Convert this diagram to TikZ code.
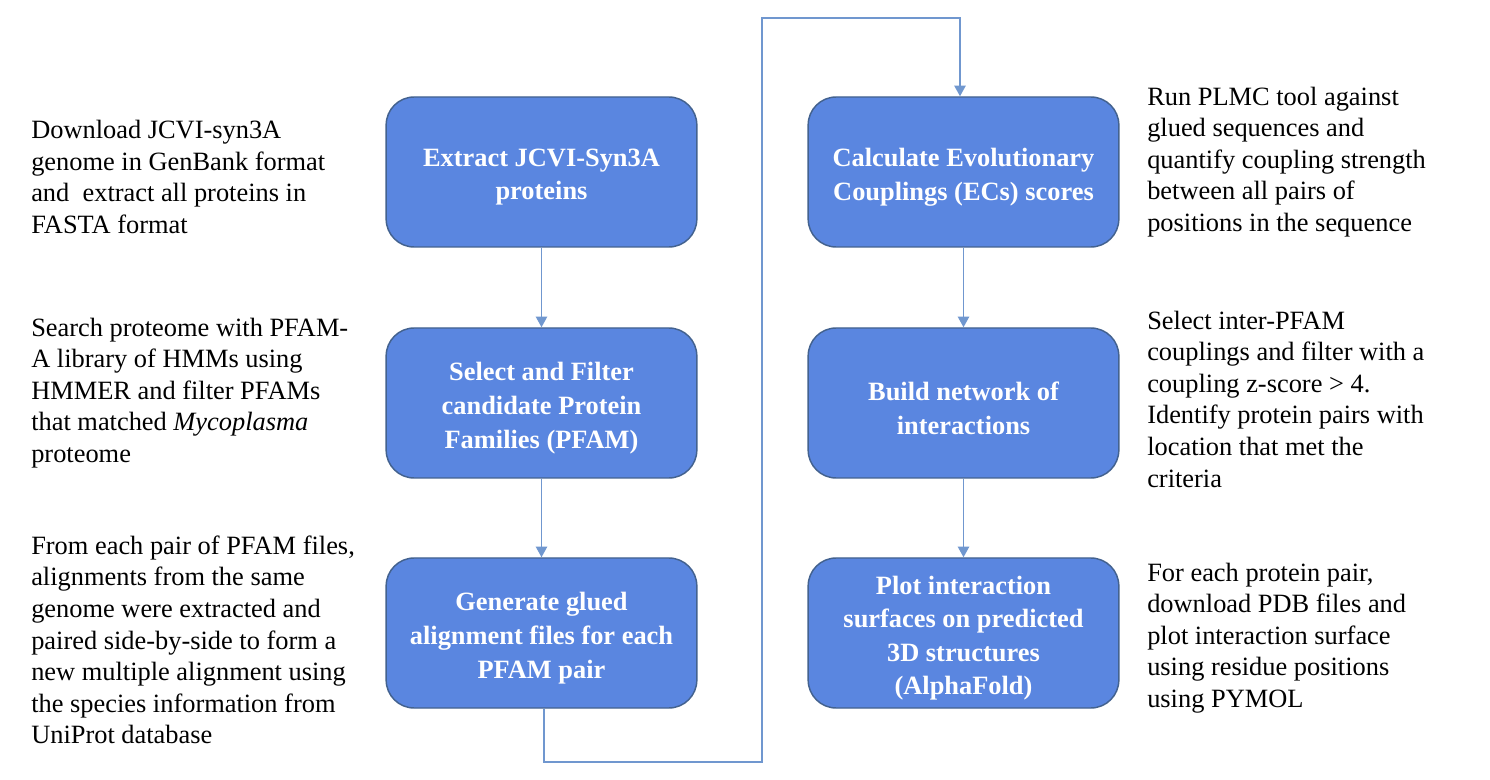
\documentclass[tikz,border=0pt]{standalone}
\usepackage{fontspec}
\setmainfont{Liberation Serif}
\usetikzlibrary{arrows.meta}
\definecolor{boxfill}{HTML}{5A86E0}
\definecolor{boxline}{HTML}{43628F}
\definecolor{conn}{HTML}{7097CF}
\begin{document}
\begin{tikzpicture}[x=0.75pt,y=-0.75pt,
  stepbox/.style={draw=boxline, line width=1.1pt, fill=boxfill, rounded corners=21pt,
    minimum width=233pt, minimum height=112.5pt, inner sep=2pt},
  boxtext/.style={align=center, text=white, inner sep=0pt, yshift=-3.8pt,
    font=\fontsize{19.8pt}{25.2pt}\selectfont\bfseries},
  sidetext/.style={align=left, inner sep=0pt, font=\fontsize{19.8pt}{23.7pt}\selectfont, anchor=west},
  conline/.style={draw=conn, line width=1.2pt},
  conarrow/.style={conline, -{Triangle[width=8.5pt,length=8pt]}}]
\useasboundingbox (0,0) rectangle (1490,780);
\fill[white] (0,0) rectangle (1490,780);

\node[stepbox, label={[boxtext]center:{Extract JCVI-Syn3A\\proteins}}] (b1) at (541.5,172) {};
\node[stepbox, label={[boxtext]center:{Select and Filter\\candidate Protein\\Families (PFAM)}}] (b2) at (541.5,403) {};
\node[stepbox, label={[boxtext]center:{Generate glued\\alignment files for each\\PFAM pair}}] (b3) at (541.5,633) {};
\node[stepbox, label={[boxtext]center:{Calculate Evolutionary\\Couplings (ECs) scores}}] (b4) at (963.5,172) {};
\node[stepbox, label={[boxtext]center:{Build network of\\interactions}}] (b5) at (963.5,403) {};
\node[stepbox, label={[boxtext]center:{Plot interaction\\surfaces on predicted\\3D structures\\(AlphaFold)}}] (b6) at (963.5,633) {};

\node[sidetext] (t1) at (31,177) {Download JCVI-syn3A\\genome in GenBank format\\and \ extract all proteins in\\FASTA format};
\node[sidetext] (t2) at (31,393) {Search proteome with PFAM-\\A library of HMMs using\\HMMER and filter PFAMs\\that matched \textit{Mycoplasma}\\proteome};
\node[sidetext] (t3) at (31,640) {From each pair of PFAM files,\\alignments from the same\\genome were extracted and\\paired side-by-side to form a\\new multiple alignment using\\the species information from\\UniProt database};
\node[sidetext] (t4) at (1147,162) {Run PLMC tool against\\glued sequences and\\quantify coupling strength\\between all pairs of\\positions in the sequence};
\node[sidetext] (t5) at (1147,399) {Select inter-PFAM\\couplings and filter with a\\coupling z-score > 4.\\Identify protein pairs with\\location that met the\\criteria};
\node[sidetext] (t6) at (1147,638) {For each protein pair,\\download PDB files and\\plot interaction surface\\using residue positions\\using PYMOL};

\coordinate (c1) at (544,762);
\coordinate (c2) at (762,762);
\coordinate (c3) at (762,18);
\coordinate (c4) at (960,18);

\draw[conarrow] (b1) -- (b2);
\draw[conarrow] (b2) -- (b3);
\draw[conarrow] (b4) -- (b5);
\draw[conarrow] (b5) -- (b6);
\draw[conarrow] (b3.south -| c1) -- (c1) -- (c2) -- (c3) -- (c4) -- (b4.north -| c4);
\end{tikzpicture}
\end{document}
